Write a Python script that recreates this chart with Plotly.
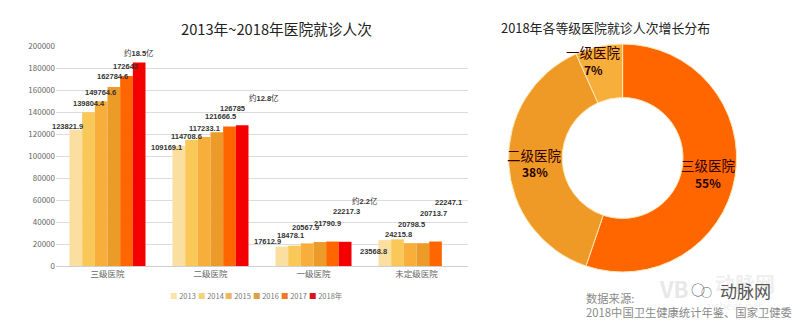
import plotly.graph_objects as go

W, H = 799, 324
FONT = "Noto Sans CJK SC"
NARROW = "Liberation Sans, Noto Sans CJK SC"

categories = ["三级医院", "二级医院", "一级医院", "未定级医院"]
years = ["2013", "2014", "2015", "2016", "2017", "2018年"]
v2013 = [123821.9, 109169.1, 17612.9, 23568.8]
v2014 = [139804.4, 114708.6, 18478.1, 24215.8]
v2015 = [149764.6, 117233.1, 20567.9, 20798.5]
v2016 = [162784.6, 121666.5, 21790.9, 20713.7]
v2017 = [172642.0, 126785.0, 22217.3, 22247.1]
v2018 = [185000, 128000, 22000, None]
series = [v2013, v2014, v2015, v2016, v2017, v2018]
bar_labels = [
    ["123821.9", "109169.1", "17612.9", "23568.8"],
    ["139804.4", "114708.6", "18478.1", "24215.8"],
    ["149764.6", "117233.1", "20567.9", "20798.5"],
    ["162784.6", "121666.5", "21790.9", "20713.7"],
    ["172642", "126785", "22217.3", "22247.1"],
    ["18.5", "12.8", "2.2", None],
]
# pixel offsets of each hand-placed label from (category centre, value)
label_dx = [[-40, -44, -46, -43], [-19, -24, -23, -18], [-7, -6, -8, -5],
            [5, 10, 14, 17], [18, 22, 33, 32], [31, 53, 51, 0]]
label_dy = [[3, -2, 5, -11], [9, 3, 10, 5], [9, 9, 16, 19],
            [10, 16, 19, 30], [10, 18, 30, 39], [9, 27, 41, 0]]
colors = ["#FBDFA0", "#FAC858", "#F8AE3A", "#EC9A28", "#FF6600", "#F50000"]
legend_colors = ["#FBE3AE", "#F5D27A", "#EDB65E", "#DFA044", "#EE7A22", "#D8141C"]

pie_labels = ["三级医院", "二级医院", "一级医院"]
pie_values = [55.2, 38.1, 6.7]
pie_percent = ["55%", "38%", "7%"]
pie_colors = ["#FF6600", "#EF9A27", "#F8AE3A"]
pie_label_px = [(708, 165), (534, 155), (593, 52)]
pie_percent_px = [(708, 182), (535, 171), (593, 69)]

fig = go.Figure()
for name, vals, col in zip(years, series, colors):
    fig.add_bar(x=categories, y=vals, name=name, marker=dict(color=col, line_width=0),
                showlegend=False, hoverinfo="skip")

fig.add_pie(labels=pie_labels, values=pie_values, hole=0.53, sort=False, direction="clockwise",
            rotation=0, textinfo="none", showlegend=False, hoverinfo="skip",
            marker=dict(colors=pie_colors, line=dict(color="#FDE7B8", width=1)),
            domain=dict(x=[508.6 / W, 736.6 / W], y=[52 / H, 280 / H]))


def px(x, y, text, size, color="#222", family=FONT, xanchor="center"):
    fig.add_annotation(xref="paper", yref="paper", x=x / W, y=1 - y / H, text=text, showarrow=False,
                       xanchor=xanchor, yanchor="middle",
                       font=dict(family=family, size=size, color=color))


# faint site watermark behind the source note
px(674, 288, "<b>VB</b>", 22, "#e8e8e8")
px(745, 283, "<b>动脉网</b>", 20, "#efefef")
px(735, 305, "vcbeat.net", 11, "#f0f0f0")

for i, row in enumerate(bar_labels):
    for j, lab in enumerate(row):
        if lab is None:
            continue
        text = f"<b>{lab}</b>" if i < 5 else f"约<b>{lab}</b>亿"
        fig.add_annotation(x=categories[j], y=series[i][j], xref="x", yref="y", text=text,
                           xshift=label_dx[i][j], yshift=label_dy[i][j], showarrow=False,
                           font=dict(family=NARROW, size=7.5, color="#333"))

px(276, 29, "2013年~2018年医院就诊人次", 14.7)
px(605.5, 27, "2018年各等级医院就诊人次增长分布", 12.9)

for i, y in enumerate(years):
    px(168 + i * 27.7, 295, f'<span style="color:{legend_colors[i]}">■</span> {y}', 7.5, "#777", xanchor="left")

for lab, pct, lp, pp in zip(pie_labels, pie_percent, pie_label_px, pie_percent_px):
    px(lp[0], lp[1], lab, 13.5, "#300")
    px(pp[0], pp[1], f"<b>{pct}</b>", 12, "#200")

px(584, 298, "数据来源:", 11.3, "#8a8a8a", xanchor="left")
px(584, 312, "2018中国卫生健康统计年鉴、国家卫健委", 11.3, "#8a8a8a", xanchor="left")
px(698, 289, "○", 14, "#555")
px(706, 292, "○", 11, "#555")
px(745, 290, "动脉网", 17, "#555")

fig.update_layout(
    width=W, height=H, autosize=False,
    margin=dict(l=0, r=0, t=0, b=0),
    paper_bgcolor="white", plot_bgcolor="white",
    barmode="group", bargap=0.262, bargroupgap=0,
    font=dict(family=FONT),
    xaxis=dict(domain=[56 / W, 468 / W], range=[-0.5, 3.5], automargin=False, showline=True, linecolor="#cfcfcf",
               linewidth=1, ticks="", tickfont=dict(size=8.5, color="#666"), fixedrange=True),
    yaxis=dict(domain=[58 / H, 278 / H], automargin=False, range=[0, 200000], dtick=20000, gridcolor="#dcdcdc",
               gridwidth=1, zeroline=False, ticks="", tickfont=dict(size=8, color="#666"), tickformat="d",
               fixedrange=True),
)
fig.write_html("out.html", config={"displayModeBar": False},
               post_script="document.body.style.margin='0';document.body.style.overflow='hidden';")
